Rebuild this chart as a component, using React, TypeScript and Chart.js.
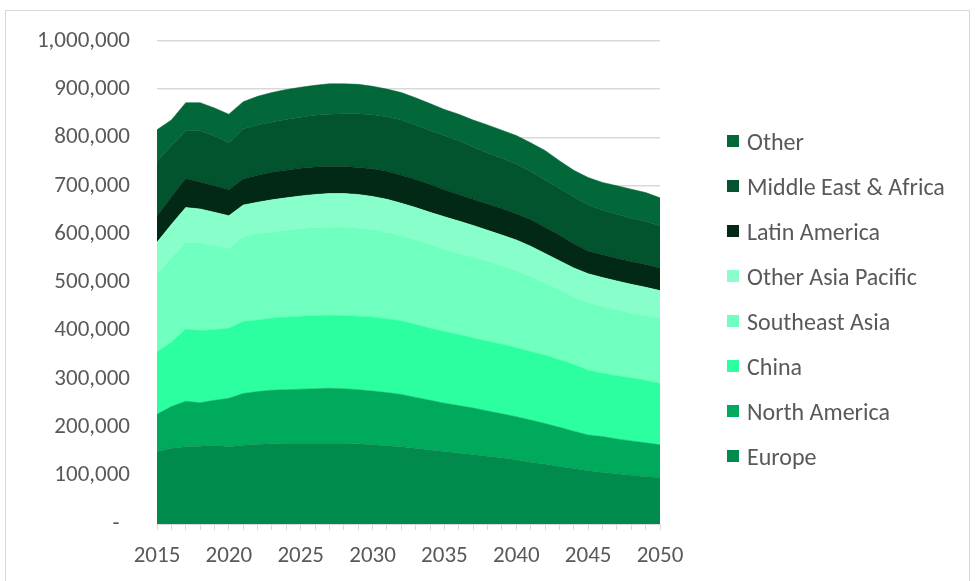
import React, { useEffect, useRef } from "react";
import { Chart, registerables } from "chart.js";

Chart.register(...registerables);

const years: string[] = [];
for (let y = 2015; y <= 2050; y++) years.push(String(y));

// values in thousands (scaled below)
const europe = [150,157,160,161,163,160,163,165,166,167,167,167,167,167,166,164,162,160,157,153,150,147,144,140,137,133,128,124,119,115,110,107,104,101,98,96];
const northAmerica = [77,86,94,90,93,100,107,109,111,111,112,113,114,113,112,111,110,108,105,103,100,98,96,94,91,89,87,84,81,77,74,74,72,71,70,68];
const china = [129,133,149,149,146,145,149,148,149,150,151,151,151,151,152,153,153,152,151,149,148,147,145,144,144,143,142,141,140,138,134,131,131,130,129,127];
const southeastAsia = [162,174,180,182,174,165,176,178,178,180,181,182,182,183,182,181,178,176,175,173,170,168,167,165,163,159,155,149,145,140,140,138,136,134,134,135];
const otherAsiaPacific = [65,70,72,70,69,68,65,66,67,67,68,69,70,70,70,69,69,68,67,67,68,67,66,65,63,64,63,62,60,60,60,60,60,60,59,57];
const latinAmerica = [55,57,60,56,55,54,54,56,57,57,57,57,56,56,56,57,58,58,58,58,56,55,54,54,55,54,55,54,53,50,47,47,47,47,47,47];
const middleEastAfrica = [114,106,99,106,103,97,104,104,104,105,106,107,108,109,111,112,113,114,113,111,112,111,108,106,104,103,100,98,97,97,95,93,91,90,89,87];
const other = [64,53,58,58,58,59,56,59,61,62,62,62,63,62,61,59,57,57,56,56,54,55,56,58,58,59,59,61,57,55,57,57,59,60,60,58];

const seriesNames = ["Europe","North America","China","Southeast Asia","Other Asia Pacific","Latin America","Middle East & Africa","Other"];
const seriesValues = [europe, northAmerica, china, southeastAsia, otherAsiaPacific, latinAmerica, middleEastAfrica, other];
const seriesColors = ["#008B4C","#00AA5D","#2BFF9F","#6FFFBF","#88FFCA","#012916","#01542D","#036839"];

const yTicks = [0,100000,200000,300000,400000,500000,600000,700000,800000,900000,1000000];

const FONT = 'Carlito, Calibri, "Liberation Sans", sans-serif';

export default function App() {
  const ref = useRef<HTMLCanvasElement | null>(null);
  useEffect(() => {
    if (!ref.current) return;
    const chart = new Chart(ref.current, {
      type: "line",
      data: {
        labels: years,
        datasets: seriesNames.map((name, i) => ({
          label: name,
          data: seriesValues[i].map((v) => v * 1000),
          backgroundColor: seriesColors[i],
          borderColor: seriesColors[i],
          borderWidth: 0.5,
          pointRadius: 0,
          fill: i === 0 ? "origin" : "-1",
          tension: 0,
        })),
      },
      options: {
        responsive: false,
        animation: false,
        layout: { padding: { left: 0, top: 40, right: 315, bottom: 0 } },
        plugins: { legend: { display: false }, tooltip: { enabled: false } },
        scales: {
          x: {
            offset: false,
            afterFit: (s: any) => { s.height = 57; },
            grid: { drawOnChartArea: false, drawTicks: true, tickLength: 6, color: "#D9D9D9", offset: false },
            border: { display: true, color: "#D9D9D9", width: 1 },
            ticks: {
              autoSkip: false,
              maxRotation: 0,
              padding: 12,
              color: "#595959",
              font: { family: FONT, size: 23 },
              callback: (_v: any, idx: number) => (Number(years[idx]) % 5 === 0 ? years[idx] : ""),
            },
          },
          y: {
            stacked: true,
            min: 0,
            max: 1000000,
            afterFit: (s: any) => { s.width = 157; },
            afterBuildTicks: (s: any) => { s.ticks = yTicks.map((v) => ({ value: v })); },
            grid: { color: "#D9D9D9", drawTicks: false, lineWidth: 1.5 },
            border: { display: false },
            ticks: {
              padding: 27,
              color: "#595959",
              font: { family: FONT, size: 23 },
              callback: (v: any) => (v === 0 ? "-  " : Number(v).toLocaleString("en-US")),
            },
          },
        },
      },
    });
    return () => chart.destroy();
  }, []);

  const legendItems = seriesNames.map((n, i) => ({ n, c: seriesColors[i] })).reverse();

  return (
    <div style={{ position: "fixed", left: 0, top: 0, width: 975, height: 581, background: "#fff", overflow: "hidden" }}>
      <div style={{ position: "absolute", left: 5, top: 10, width: 965, height: 580, border: "1px solid #D9D9D9", boxSizing: "border-box" }} />
      <canvas ref={ref} width={975} height={581} style={{ position: "absolute", left: 0, top: 0, width: 975, height: 581 }} />
      {legendItems.map((it, i) => (
        <div key={it.n} style={{ position: "absolute", left: 727, top: 141 + i * 45 - 14, height: 28, display: "flex", alignItems: "center", fontFamily: FONT, fontSize: 24, color: "#595959", whiteSpace: "nowrap" }}>
          <span style={{ display: "inline-block", width: 12, height: 12, background: it.c, marginRight: 8 }} />
          <span>{it.n}</span>
        </div>
      ))}
    </div>
  );
}
